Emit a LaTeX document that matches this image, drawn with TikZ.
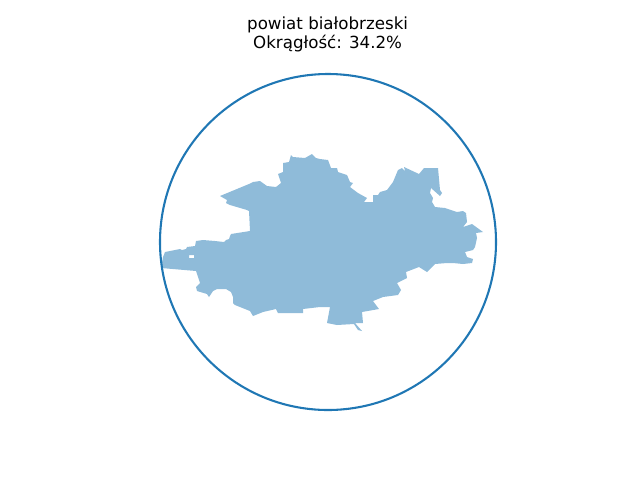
\documentclass[tikz,border=0pt]{standalone}
\usepackage{fontspec}
\setmainfont{DejaVu Sans}
\definecolor{mplblue}{HTML}{1F77B4}
\tikzset{
  region/.style={fill=mplblue,fill opacity=0.5,draw=none,even odd rule},
  ring/.style={draw=mplblue,line width=2.08pt},
  titletext/.style={font=\fontsize{16.67}{16.67}\selectfont,align=center,inner sep=0pt,text=black}
}
\begin{document}
\begin{tikzpicture}[x=1pt,y=-1pt]
\useasboundingbox (0,0) rectangle (640,480);
\fill[region]
 (161,268) -- (163,257) -- (165,252) -- (180,249) -- (182,250) -- (186,249) -- (187,247) -- (195,246) -- (196,241) -- (203,240) -- (215,241) -- (224,242) -- (226,240) -- (229,239) -- (230,236)
 -- (231,234) -- (250,231) -- (249,211) -- (247,210) -- (230,205) -- (226,203) -- (227,200) -- (220,196) -- (249,184) -- (253,182) -- (260,181) -- (267,186) -- (276,187) -- (281,183) -- (278,174) -- (283,172) -- (283,163) -- (289,162) -- (291,155) -- (293,157) -- (305,158) -- (312,154) -- (316,158)
 -- (320,159) -- (328,160) -- (331,168) -- (337,168) -- (338,172) -- (347,175) -- (350,182) -- (353,183) -- (350,187) -- (358,193) -- (367,198) -- (364,202) -- (373,202) -- (373,195) -- (378,195) -- (380,192) -- (387,190) -- (393,182) -- (398,170) -- (402,168) -- (405,171) -- (404,167) -- (419,174) -- (424,168) -- (438,168) -- (440,190) -- (442,193) -- (440,196) -- (431,188) -- (430,193) -- (433,198) -- (432,202) -- (435,207) -- (445,208) -- (457,212) -- (463,211) -- (466,213) -- (467,222) -- (463,227) -- (472,224) -- (483,232) -- (476,233) -- (477,238)
 -- (475,247) -- (473,250) -- (465,252) -- (467,257) -- (473,259) -- (472,263) -- (463,264) -- (453,263) -- (447,263) -- (435,264) -- (427,272) -- (419,267) -- (406,272) -- (407,278) -- (397,283) -- (401,290) -- (398,295) -- (383,297) -- (373,301) -- (379,309) -- (362,312) -- (363,323) -- (355,323) -- (362,331) -- (358,330) -- (354,324) -- (337,325) -- (327,323) -- (330,307)
 -- (320,307) -- (303,309) -- (303,313) -- (278,313) -- (276,309) -- (263,312) -- (253,316) -- (250,311) -- (235,305) -- (233,303) -- (233,297) -- (231,292) -- (226,289) -- (217,289) -- (213,291) -- (209,297) -- (207,294) -- (197,291) -- (196,287) -- (200,283) -- (196,271) -- cycle
 (189,255) -- (194,255) -- (194,258) -- (189,258) -- cycle;
\draw[ring] (328,242) circle [radius=168];
\node[titletext] (heading) at (327.6,34.5) {powiat białobrzeski\\[1.5pt]Okrągłość: 34.2\%};
\end{tikzpicture}
\end{document}
